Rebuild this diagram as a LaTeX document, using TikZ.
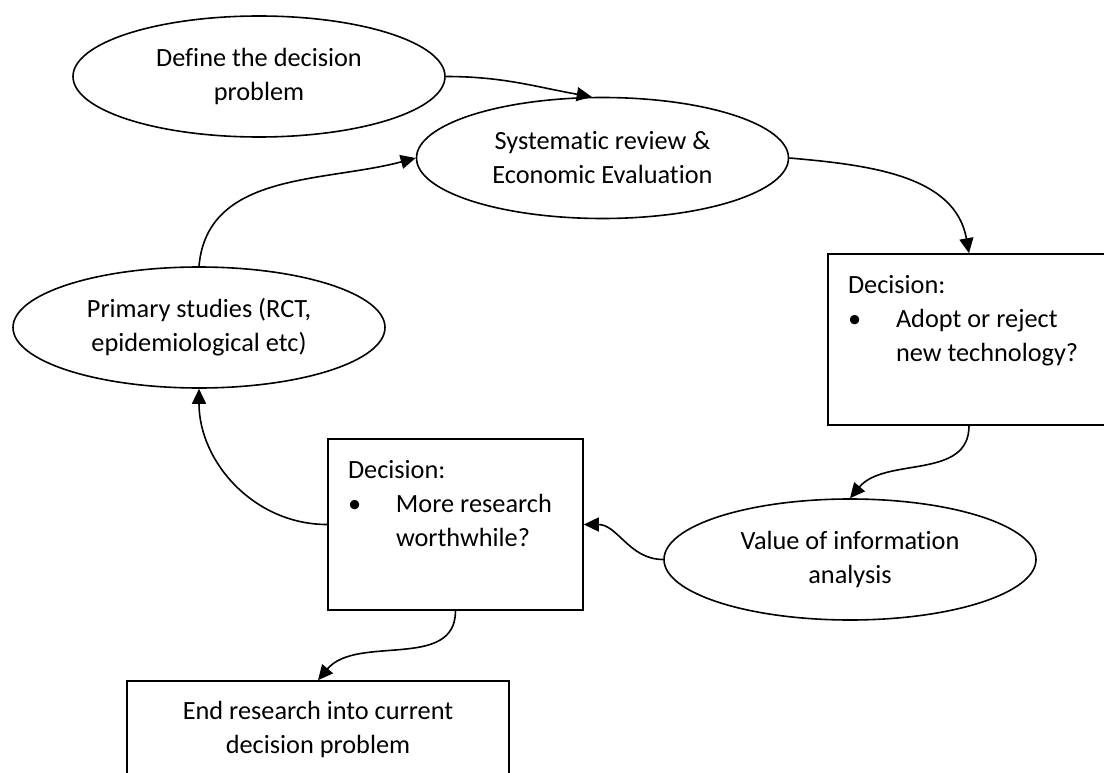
\documentclass[tikz,border=0pt]{standalone}
\usepackage{fontspec}
\setmainfont{Carlito}[Ligatures=NoCommon]
\usetikzlibrary{shapes.geometric,arrows.meta}

\begin{document}
\begin{tikzpicture}[
x=1pt, y=1pt,
every node/.style={font=\fontsize{26.3}{34}\selectfont},
oval/.style={draw, ellipse, line width=1.6pt, align=center, minimum width=372pt, minimum height=121pt, inner sep=0pt},
box/.style={draw, rectangle, line width=1.6pt, inner xsep=20pt, inner ysep=16pt},
endbox/.style={draw, rectangle, line width=1.6pt, align=center, minimum width=382pt, minimum height=96pt},
arrow/.style={-{Triangle[length=15pt,width=14pt]}, line width=1.6pt}
]
\useasboundingbox (0,0) rectangle (1104,-773);

\node[oval] (define) at (259,-76.5) {Define the decision\\problem};
\node[oval] (review) at (602.5,-158) {Systematic review \&\\Economic Evaluation};
\node[box] (adopt) at (969,-339.5) {\parbox[c][139pt][t]{242pt}{\strut Decision:\\
  \makebox[48pt][l]{\textbullet}Adopt or reject\\
  \hspace*{48pt}new technology?}};
\node[oval] (voi) at (850,-559.5) {Value of information\\analysis};
\node[box] (more) at (455.5,-524.5) {\parbox[c][139pt][t]{215pt}{\strut Decision:\\
  \makebox[48pt][l]{\textbullet}More research\\
  \hspace*{48pt}worthwhile?}};
\node[oval] (primary) at (199,-327.5) {Primary studies (RCT,\\epidemiological etc)};
\node[endbox] (endres) at (318,-729) {End research into current\\decision problem};

\draw[arrow] (define.east) to[out=0, in=170] (review.100);
\draw[arrow] (review.east) to[out=-5, in=100] (adopt.north);
\draw[arrow] (adopt.south) to[out=-90, in=50] (voi.north);
\draw[arrow] (voi.west) to[out=180, in=0] (more.east);
\draw[arrow] (more.west) to[out=180, in=-90] (primary.south);
\draw[arrow] (primary.north) to[out=85, in=195] (review.west);
\draw[arrow] (more.south) to[out=-90, in=50] (endres.north);

\end{tikzpicture}
\end{document}
